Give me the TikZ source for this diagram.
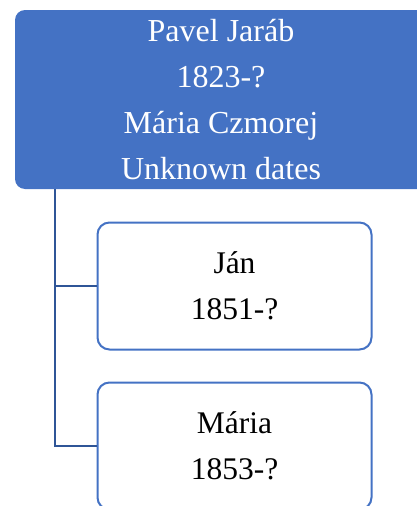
\documentclass[tikz,border=0pt]{standalone}
\usepackage{fontspec}
\setmainfont{Liberation Serif}
\definecolor{boxblue}{HTML}{4472C4}
\definecolor{lineblue}{HTML}{2F5597}
\tikzset{
  parentbox/.style={draw=none, fill=boxblue, rounded corners=10pt, text=white,
    minimum width=412pt, minimum height=179pt, inner sep=0pt, align=center,
    font=\fontsize{32}{46}\selectfont},
  childbox/.style={draw=boxblue, line width=2pt, fill=white, rounded corners=12pt,
    minimum width=274pt, minimum height=127pt, inner sep=0pt, align=center,
    font=\fontsize{31.5}{46}\selectfont},
  conn/.style={draw=lineblue, line width=2.4pt}
}
\begin{document}
\begin{tikzpicture}[x=1pt,y=1pt]
\useasboundingbox (0,0) rectangle (416,-506);
\coordinate (trunk) at (55,-185);
\node[childbox] (c1) at (234.5,-286) {Ján\\1851-?};
\node[childbox] (c2) at (234.5,-446) {Mária\\1853-?};
\draw[conn] (trunk) |- (c1.west);
\draw[conn] (trunk) |- (c2.west);
\node[parentbox] (top) at (221,-99.5) {Pavel Jaráb\\1823-?\\Mária Czmorej\\Unknown dates};
\end{tikzpicture}
\end{document}
